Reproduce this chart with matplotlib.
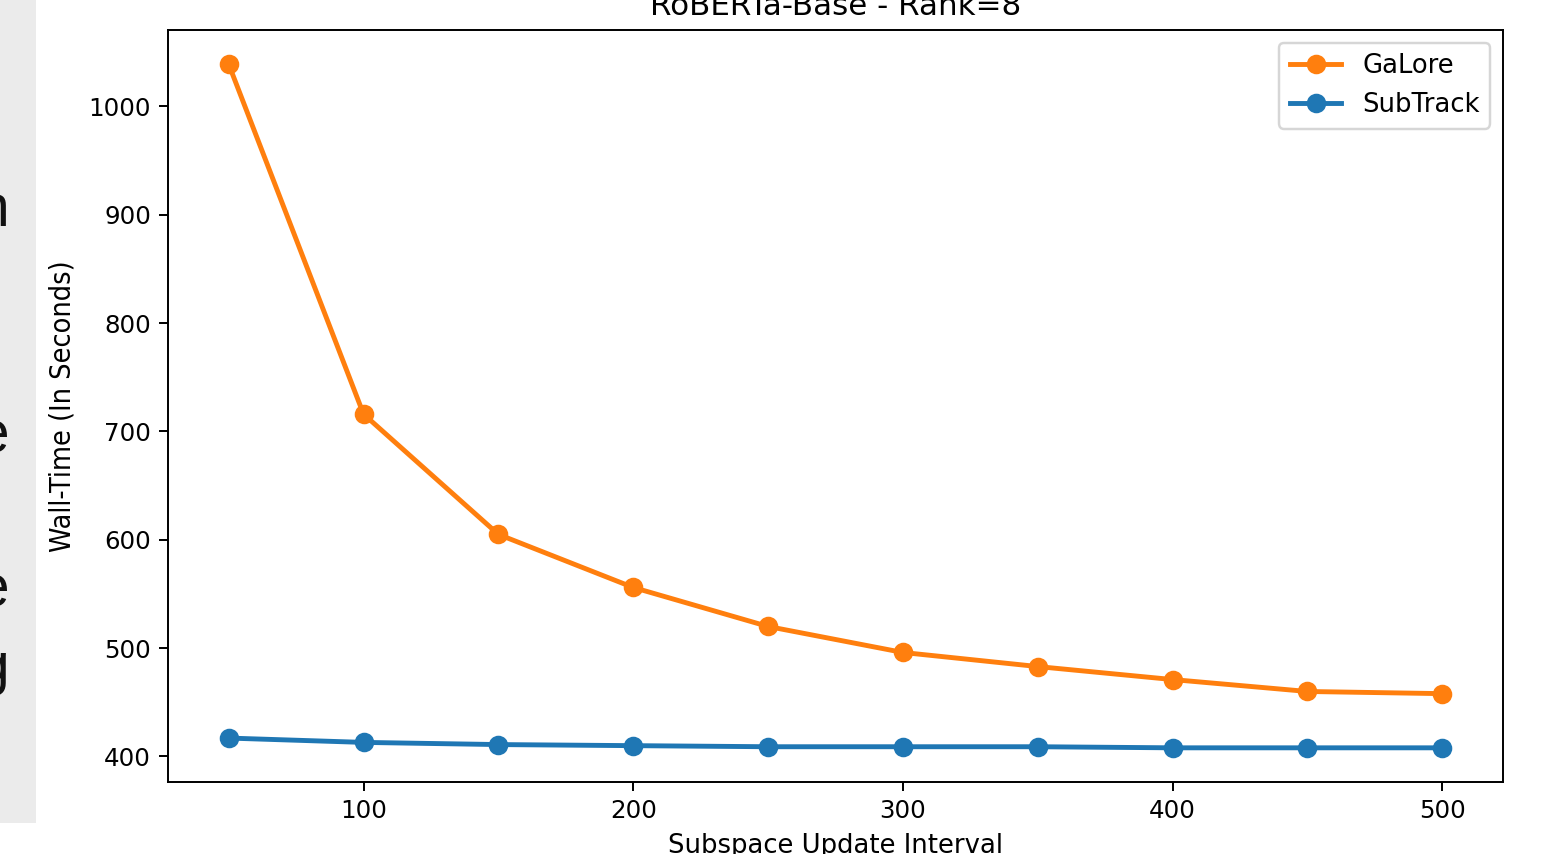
import matplotlib
matplotlib.use('Agg')
import matplotlib.pyplot as plt
from matplotlib.patches import Rectangle

intervals = [50, 100, 150, 200, 250, 300, 350, 400, 450, 500]
galore = [1039, 716, 605, 556, 520, 496, 483, 471, 460, 458]
subtrack = [417, 413, 411, 410, 409, 409, 409, 408, 408, 408]

W, H, dpi = 1551, 854, 176
fig = plt.figure(figsize=(W / dpi, H / dpi), dpi=dpi)

# grey strip of the page on the left, with clipped letters
strip = Rectangle((0, 1 - 823 / H), 36 / W, 823 / H, transform=fig.transFigure,
                  facecolor='#ebebeb', edgecolor='none', zorder=0)
fig.patches.append(strip)
for ch, yc in [('n', 211), ('e', 437), ('e', 591), ('g', 668)]:
    t = fig.text(9 / W, 1 - yc / H, ch, ha='right', va='center', fontsize=24,
                 family='Liberation Sans', color='#111111')
    t.set_clip_path(strip)

ax = fig.add_axes([168 / W, 1 - 782 / H, (1503 - 168) / W, (782 - 30) / H])
ax.plot(intervals, galore, marker='o', color='#ff7f0e', lw=2, markersize=7, label='GaLore')
ax.plot(intervals, subtrack, marker='o', color='#1f77b4', lw=2, markersize=7, label='SubTrack')
ax.set_title('RoBERTa-Base - Rank=8', fontsize=12.7)
ax.set_xlabel('Subspace Update Interval', fontsize=10.6)
ax.set_ylabel('Wall-Time (In Seconds)', family='DejaVu Sans', fontstretch='condensed',
              fontsize=11.7, labelpad=5)
ax.legend(loc='upper right', fontsize=10.6)

fig.savefig('out.png', dpi=dpi)
